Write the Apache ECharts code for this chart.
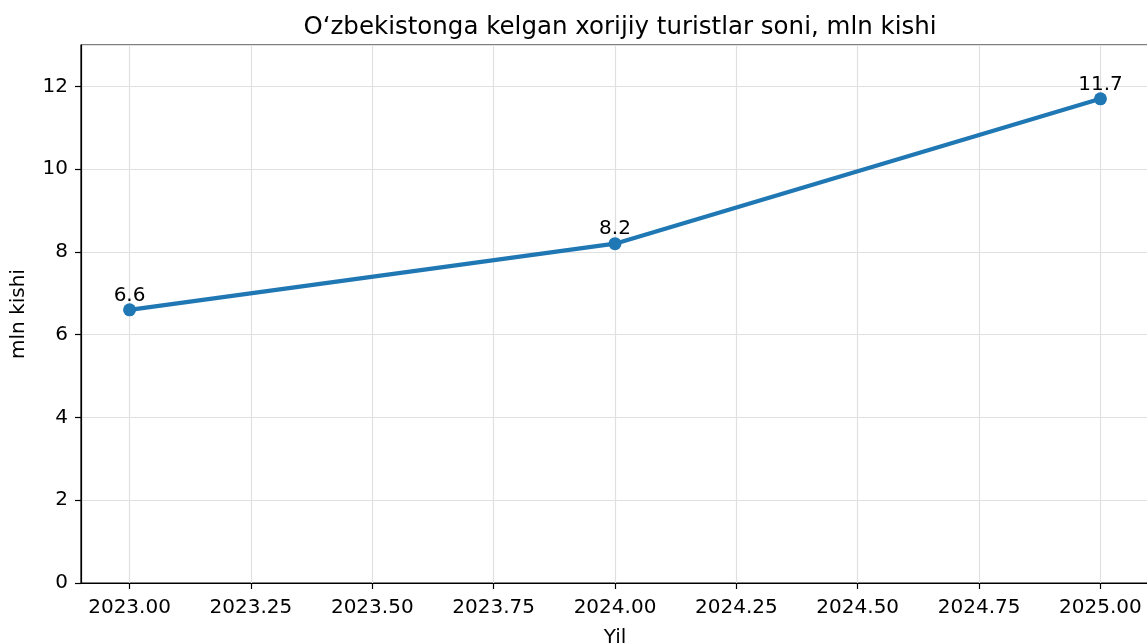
<!DOCTYPE html>
<html>
<head>
<meta charset="utf-8">
<script src="https://cdn.jsdelivr.net/npm/echarts@6/dist/echarts.min.js"></script>
<style>
  html, body { margin: 0; padding: 0; background: #fff; }
  #main { width: 1147px; height: 644px; }
</style>
</head>
<body>
<div id="main"></div>
<script>
// ma'lumotlar
var years = [2023, 2024, 2025];
var tourists = [6.6, 8.2, 11.7];
var xTicks = [2023, 2023.25, 2023.5, 2023.75, 2024, 2024.25, 2024.5, 2024.75, 2025];

var myChart = echarts.init(document.getElementById('main'));
var font = 'DejaVu Sans';

var seriesData = [];
for (var i = 0; i < years.length; i++) {
    seriesData.push([years[i], tourists[i]]);
}

var option = {
    animation: false,
    textStyle: { fontFamily: font },
    title: {
        text: 'O‘zbekistonga kelgan xorijiy turistlar soni, mln kishi',
        left: 615,
        textAlign: 'center',
        top: 10,
        textStyle: { fontFamily: font, fontSize: 24.5, fontWeight: 'normal', color: '#000' }
    },
    grid: {
        left: 81,
        top: 45,
        width: 1068,
        height: 538,
        outerBoundsMode: 'none',
        containLabel: false,
        show: true,
        borderColor: '#000',
        borderWidth: 1.2,
        backgroundColor: 'transparent'
    },
    xAxis: {
        type: 'value',
        min: 2022.9,
        max: 2025.1,
        name: 'Yil',
        nameLocation: 'middle',
        nameGap: 45,
        nameTextStyle: { fontFamily: font, fontSize: 20, color: '#000' },
        axisLine: { show: true, onZero: false, lineStyle: { color: '#000', width: 1.2 } },
        axisTick: { show: true, length: 6, customValues: xTicks, lineStyle: { color: '#000', width: 1.2 } },
        axisLabel: {
            customValues: xTicks,
            margin: 15,
            fontFamily: font, fontSize: 20, color: '#000',
            formatter: function (v) { return v.toFixed(2); }
        },
        splitLine: { show: true, customValues: xTicks, lineStyle: { color: '#e0e0e0', width: 1.2 } }
    },
    yAxis: {
        type: 'value',
        min: 0,
        max: 13,
        interval: 2,
        name: 'mln kishi',
        nameLocation: 'middle',
        nameGap: 52,
        nameTextStyle: { fontFamily: font, fontSize: 20, color: '#000' },
        axisLine: { show: true, lineStyle: { color: '#000', width: 1.2 } },
        axisTick: { show: true, length: 6, lineStyle: { color: '#000', width: 1.2 } },
        axisLabel: { showMaxLabel: false, margin: 13, fontFamily: font, fontSize: 20, color: '#000' },
        splitLine: { show: true, lineStyle: { color: '#e0e0e0', width: 1.2 } }
    },
    series: [{
        type: 'line',
        data: seriesData,
        symbol: 'circle',
        symbolSize: 13,
        color: '#1f77b4',
        lineStyle: { width: 4.2, color: '#1f77b4' },
        itemStyle: { color: '#1f77b4' },
        label: {
            show: true,
            position: 'top',
            distance: -2,
            fontFamily: font,
            fontSize: 20,
            color: '#000'
        }
    }]
};

myChart.setOption(option);
</script>
</body>
</html>
